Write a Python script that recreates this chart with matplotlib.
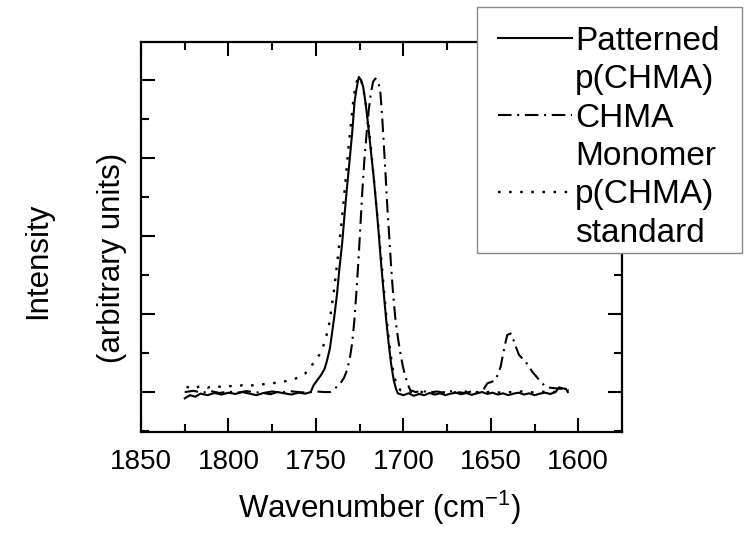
import matplotlib
matplotlib.use("Agg")
import matplotlib.pyplot as plt
from matplotlib.lines import Line2D
from matplotlib.patches import Rectangle
from matplotlib.ticker import MultipleLocator

plt.rcParams['font.family'] = ['Liberation Sans', 'DejaVu Sans']
plt.rcParams['mathtext.default'] = 'regular'

# ---- data ----
wn_pat = [1825, 1822, 1819, 1816, 1812, 1808, 1804, 1800, 1796, 1792, 1788, 1784, 1780,
          1776, 1772, 1768, 1764, 1760, 1756, 1753, 1751.3, 1749, 1747, 1745, 1743.7,
          1742, 1740.8, 1739.3, 1737.9, 1736.5, 1735, 1733.6, 1732.2, 1730.7, 1729.3,
          1727.9, 1726.9, 1725.5, 1724.2, 1723, 1721.7, 1720.4, 1718.7, 1717, 1715.5,
          1714.1, 1712.7, 1711.2, 1709.8, 1708.4, 1707, 1705.5, 1704.2, 1703.2, 1700,
          1697, 1694, 1691, 1688, 1685, 1682, 1679, 1676, 1673, 1670, 1667, 1664, 1661,
          1658, 1655, 1652, 1649, 1646, 1643, 1640, 1637, 1634, 1631, 1628, 1625, 1622,
          1619, 1616, 1613, 1611, 1609, 1607, 1606]
int_pat = [-0.02, -0.01, -0.015, -0.005, -0.01, -0.003, -0.008, -0.002, -0.006, 0.0,
           -0.005, -0.01, -0.003, -0.007, 0.0, -0.004, -0.008, -0.002, -0.005, 0.0,
           0.022, 0.04, 0.055, 0.075, 0.10, 0.14, 0.188, 0.25, 0.316, 0.40, 0.477, 0.57,
           0.658, 0.745, 0.829, 0.93, 0.968, 1.01, 1.0, 0.979, 0.93, 0.87, 0.78, 0.69,
           0.60, 0.509, 0.41, 0.316, 0.23, 0.156, 0.09, 0.038, 0.01, -0.004, -0.01,
           -0.004, -0.012, -0.006, -0.01, -0.003, -0.008, -0.004, -0.01, -0.005, -0.002,
           -0.007, -0.003, -0.009, -0.004, 0.0, -0.006, -0.002, -0.008, -0.004, -0.01,
           -0.005, -0.002, -0.008, -0.004, -0.01, -0.005, -0.002, -0.006, 0.0, 0.015,
           0.012, 0.01, 0.0]

wn_mono = [1825, 1820, 1815, 1810, 1805, 1800, 1795, 1790, 1785, 1780, 1775, 1770, 1765,
           1760, 1755, 1750, 1745, 1741.8, 1739, 1736, 1734, 1732.2, 1730.7, 1729.3,
           1728, 1726.9, 1725.7, 1724.6, 1723.5, 1722.3, 1721, 1719.8, 1718.5, 1717.3,
           1716, 1715, 1714, 1713.1, 1712.1, 1711.2, 1710.2, 1709.3, 1708.1, 1707,
           1705.8, 1704.5, 1703, 1701.7, 1700.2, 1698.8, 1697.3, 1696, 1693, 1689, 1685,
           1681, 1677, 1673, 1669, 1665, 1661, 1657, 1654, 1652, 1649.5, 1647.3, 1645.8,
           1644.4, 1643.4, 1642.5, 1641.5, 1640.6, 1638.7, 1637.5, 1636.4, 1635, 1633.9,
           1632, 1630.1, 1628.2, 1626.3, 1624, 1621.5, 1619.5, 1617.7, 1612.9, 1607.2,
           1605.5]
int_mono = [0.0, 0.004, -0.002, 0.003, -0.003, 0.002, -0.002, 0.003, 0.0, -0.003, 0.002,
            -0.002, 0.003, 0.0, -0.002, 0.002, 0.0, 0.0, 0.012, 0.028, 0.045, 0.07,
            0.105, 0.156, 0.23, 0.316, 0.42, 0.53, 0.64, 0.744, 0.83, 0.904, 0.96, 0.995,
            1.005, 1.0, 0.985, 0.957, 0.88, 0.797, 0.70, 0.605, 0.50, 0.402, 0.31, 0.231,
            0.17, 0.124, 0.08, 0.049, 0.022, 0.006, 0.0, 0.004, -0.003, 0.002, -0.002,
            0.003, 0.0, -0.003, 0.002, 0.0, 0.01, 0.028, 0.033, 0.038, 0.06, 0.081, 0.11,
            0.135, 0.162, 0.183, 0.188, 0.175, 0.156, 0.135, 0.119, 0.108, 0.097, 0.082,
            0.065, 0.05, 0.033, 0.022, 0.015, 0.012, 0.009, 0.005]

wn_std = [1824, 1820, 1816, 1812, 1808, 1804, 1800, 1796, 1792, 1788, 1784, 1780, 1776,
          1772, 1768, 1764, 1760, 1756, 1752.2, 1749, 1746.5, 1744.5, 1742.7, 1741.3,
          1739.9, 1738.5, 1737, 1735.5, 1734.1, 1732.7, 1731.3, 1729.8, 1728.4, 1727,
          1725.5, 1724.2, 1723, 1721.5, 1720, 1718.5, 1717, 1715.5, 1714, 1712.5, 1711,
          1709.6, 1708.2, 1706.8, 1705.3, 1703.5, 1701.7, 1698, 1692, 1686, 1680, 1674,
          1668, 1662, 1656, 1650, 1644, 1638, 1632, 1626, 1620, 1614, 1608]
int_std = [0.017, 0.01, 0.02, 0.014, 0.02, 0.016, 0.02, 0.017, 0.022, 0.02, 0.024, 0.025,
           0.028, 0.03, 0.034, 0.04, 0.046, 0.06, 0.087, 0.11, 0.135, 0.17, 0.209, 0.26,
           0.316, 0.38, 0.455, 0.535, 0.615, 0.70, 0.786, 0.87, 0.946, 0.99, 1.01, 1.0,
           0.975, 0.925, 0.86, 0.78, 0.69, 0.60, 0.51, 0.415, 0.32, 0.235, 0.165, 0.10,
           0.05, 0.02, 0.006, 0.0, 0.002, -0.002, 0.001, -0.003, 0.0, 0.002, -0.002,
           0.001, -0.002, 0.0, 0.002, -0.001, 0.001, 0.0, 0.002]

labels = ["Patterned", "p(CHMA)", "CHMA", "Monomer", "p(CHMA)", "standard"]
x_ticks = [1850, 1800, 1750, 1700, 1650, 1600]

# ---- figure ----
W, H = 744, 534
fig = plt.figure(figsize=(W / 100, H / 100), dpi=100)
ax = fig.add_axes([141 / W, 1 - 432 / H, (622 - 141) / W, (432 - 42) / H])

lw = 1.5
l1, = ax.plot(wn_pat, int_pat, color='black', lw=lw, linestyle='-')
l2, = ax.plot(wn_mono, int_mono, color='black', lw=lw, linestyle=(0, (6.5, 2.7, 1.0, 2.7)))
l3, = ax.plot(wn_std, int_std, color='black', lw=1.7, linestyle=(0, (1.1, 3.6)))

ax.set_xlim(1850, 1575)
ax.set_ylim(-0.128, 1.122)
ax.set_xticks(x_ticks)
ax.xaxis.set_minor_locator(MultipleLocator(25))
ax.yaxis.set_major_locator(MultipleLocator(0.25))
ax.yaxis.set_minor_locator(MultipleLocator(0.125))
ax.tick_params(which='both', direction='in', top=True, right=True, width=1.5,
               labelleft=False, labelsize=20)
ax.tick_params(which='major', length=10, pad=12)
ax.tick_params(which='minor', length=5.5)
for s in ax.spines.values():
    s.set_linewidth(1.6)

fig.text(380 / W, 1 - 518 / H, 'Wavenumber (cm$^{-1}$)', ha='center', va='baseline', fontsize=22.5)
fig.text(38 / W, 1 - 261 / H, 'Intensity', ha='center', va='center', rotation=90, fontsize=22.5)
fig.text(112 / W, 1 - 258 / H, '(arbitrary units)', ha='center', va='center', rotation=90, fontsize=22.5)

# legend box (drawn over the axes frame)
box = Rectangle((477 / W, 1 - 253 / H), (742 - 477) / W, (253 - 7) / H,
                transform=fig.transFigure, facecolor='white', edgecolor='#888888',
                linewidth=1.0, zorder=3)
fig.add_artist(box)

blank = Line2D([], [], linestyle='none')
leg = fig.legend([l1, blank, l2, blank, l3, blank], labels,
                 loc='upper left', bbox_to_anchor=(498 / W, 1 - 26 / H),
                 bbox_transform=fig.transFigure, borderaxespad=0, borderpad=0,
                 fontsize=24, handlelength=2.22, handletextpad=0.09,
                 labelspacing=0.22, frameon=False)
leg.set_zorder(4)

fig.savefig('out.png', dpi=100)
